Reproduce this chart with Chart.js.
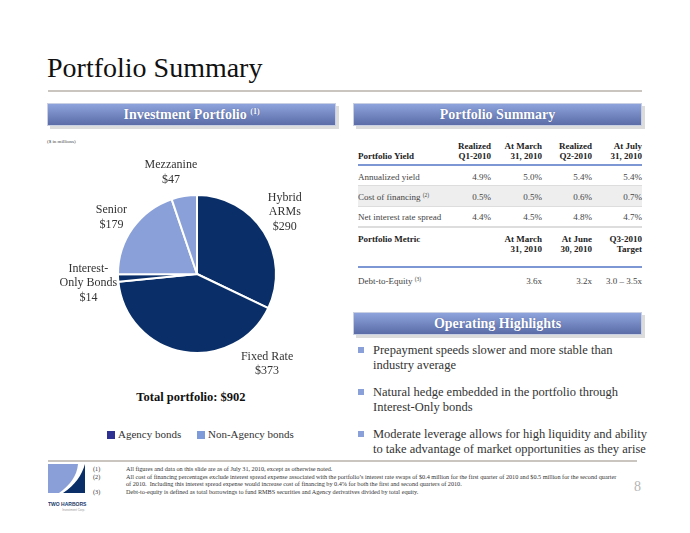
<!DOCTYPE html>
<html>
<head>
<meta charset="utf-8">
<script src="https://cdn.jsdelivr.net/npm/chart.js@4"></script>
<style>
  body { margin: 0; width: 690px; height: 533px; background: #fff; position: relative; overflow: hidden;
         font-family: "Liberation Serif", "Times New Roman", serif; color: #333; }
  .abs { position: absolute; }
  .title { left: 47px; top: 52px; font-size: 28px; color: #111; }
  .rule { height: 2px; background: #cbc5bf; }
  .bar { height: 21px; border: 1px solid #c9d0e4; box-shadow: 3px 3px 0 #dcdcdc;
         background: linear-gradient(#8ea3dc, #5b6ca7); color: #fff; font-weight: bold;
         font-size: 14px; text-align: center; line-height: 21px; text-shadow: 0 0 1px #4a5a90; }
  .bar sup { font-size: 8px; vertical-align: 5px; line-height: 0; }
  .small { font-size: 5px; }
  .cell { position: absolute; font-size: 9px; white-space: nowrap; line-height: 10px; }
  .hd { font-weight: bold; color: #222; text-align: right; }
  .num { text-align: right; color: #444; }
  .lbl { color: #444; }
  .lbl sup, .num sup { font-size: 5.5px; vertical-align: 3px; line-height: 0; }
  .bul { position: absolute; left: 358px; width: 6px; height: 6px; background: #8aa0d8; }
  .btxt { position: absolute; left: 373px; font-size: 12.5px; line-height: 14.5px; color: #333; white-space: nowrap; }
  .fn { position: absolute; font-size: 6.2px; line-height: 7.5px; color: #333; white-space: nowrap; }
</style>
</head>
<body>
<div class="abs title">Portfolio Summary</div>
<div class="abs rule" style="left:48px; top:90px; width:594px;"></div>

<div class="abs bar" style="left:47px; top:103px; width:287px;">Investment Portfolio <sup>(1)</sup></div>
<div class="abs bar" style="left:353px; top:103px; width:287px;">Portfolio Summary</div>
<div class="abs bar" style="left:353px; top:312px; width:287px;">Operating Highlights</div>

<div class="abs small" style="left:47px; top:139px; color:#444;">($ in millions)</div>

<canvas id="pie" class="abs" width="290" height="250" style="left:47px; top:140px;"></canvas>

<div class="abs" style="left:47px; top:390px; width:288px; text-align:center; font-weight:bold; font-size:12.5px; color:#111;" id="total"></div>

<div id="legend"></div>

<div id="table"></div>
<div id="bullets"></div>

<div class="abs rule" style="left:48px; top:460px; width:589px;"></div>
<svg class="abs" style="left:48px; top:463px;" width="44" height="50" viewBox="0 0 44 50">
  <path d="M0,1 L30,1 C29,13 22,22 11,30 L0,30 Z" fill="#8a9fd8"/>
  <path d="M37,1 L37,30 L15,30 C27,22 34,12 37,1 Z" fill="#0a2f68"/>
  <text x="0" y="43" font-size="5" font-weight="bold" fill="#1d3b6c" font-family="Liberation Sans, sans-serif">TWO HARBORS</text>
  <text x="37" y="48" font-size="3" fill="#999" text-anchor="end" font-family="Liberation Sans, sans-serif">Investment Corp.</text>
</svg>
<div class="fn" style="left:93px; top:465px;">(1)<br>(2)<br><br>(3)</div>
<div class="fn" style="left:126px; top:465px;">All figures and data on this slide are as of July 31, 2010, except as otherwise noted.<br>All cost of financing percentages exclude interest spread expense associated with the portfolio’s interest rate swaps of $0.4 million for the first quarter of 2010 and $0.5 million for the second quarter<br>of 2010.&nbsp; Including this interest spread expense would increase cost of financing by 0.4% for both the first and second quarters of 2010.<br>Debt-to-equity is defined as total borrowings to fund RMBS securities and Agency derivatives divided by total equity.</div>
<div class="abs" style="left:634px; top:479px; font-size:14px; color:#b5b5b5;">8</div>

<script>
// pie data ($ in millions)
const categories = [["Hybrid", "ARMs"], ["Fixed Rate"], ["Interest-", "Only Bonds"], ["Senior"], ["Mezzanine"]];
const values = [290, 373, 14, 179, 47];
const groups = ["Agency bonds", "Agency bonds", "Agency bonds", "Non-Agency bonds", "Non-Agency bonds"];
const totalPortfolio = 902;

// portfolio yield table
const yieldHeads = [["Realized", "Q1-2010"], ["At  March", "31, 2010"], ["Realized", "Q2-2010"], ["At July", "31, 2010"]];
const yieldRows = ["Annualized yield", "Cost of financing", "Net interest rate spread"];
const yieldNotes = ["", "(2)", ""];
const annualizedYield = ["4.9%", "5.0%", "5.4%", "5.4%"];
const costOfFinancing = ["0.5%", "0.5%", "0.6%", "0.7%"];
const netSpread = ["4.4%", "4.5%", "4.8%", "4.7%"];

// portfolio metric table
const metricHeads = [["At March", "31, 2010"], ["At June", "30, 2010"], ["Q3-2010", "Target"]];
const debtToEquity = ["3.6x", "3.2x", "3.0 – 3.5x"];

const highlights = [
  ["Prepayment speeds slower and more stable than", "industry average"],
  ["Natural hedge embedded in the portfolio through", "Interest-Only bonds"],
  ["Moderate leverage allows for high liquidity and ability", "to take advantage of market opportunities as they arise"]
];

const groupColors = { "Agency bonds": "#0a2f68", "Non-Agency bonds": "#8aa0d8" };
const legendColors = { "Agency bonds": "#2e3192", "Non-Agency bonds": "#7f9ad8" };

document.getElementById("total").textContent = "Total portfolio: $" + totalPortfolio;

// legend
let lg = "";
const legendX = [107, 197];
[...new Set(groups)].forEach((g, i) => {
  lg += `<div class="abs" style="left:${legendX[i]}px; top:431px; width:8px; height:8px; background:${legendColors[g]}"></div>`;
  lg += `<div class="abs" style="left:${legendX[i] + 11}px; top:428px; font-size:11px; color:#333">${g}</div>`;
});
document.getElementById("legend").innerHTML = lg;

// tables
const colRight = [491, 542, 592, 642];
let h = "";
function put(text, x, y, cls, right) {
  const pos = right ? `right:${690 - x}px` : `left:${x}px`;
  h += `<div class="cell ${cls}" style="${pos}; top:${y}px">${text}</div>`;
}
yieldHeads.forEach((hd, i) => put(hd.join("<br>"), colRight[i], 141, "hd", true));
put("Portfolio Yield", 358, 151, "hd", false);
h += `<div class="abs" style="left:358px; top:164px; width:284px; height:2px; background:#7d97d5"></div>`;
h += `<div class="abs" style="left:358px; top:186px; width:284px; height:20px; background:#eeeeee"></div>`;
h += `<div class="abs" style="left:358px; top:185px; width:284px; height:1px; background:#dddddd"></div>`;
h += `<div class="abs" style="left:358px; top:206px; width:284px; height:1px; background:#dddddd"></div>`;
h += `<div class="abs" style="left:358px; top:226px; width:284px; height:2px; background:#dddddd"></div>`;
const yieldData = [annualizedYield, costOfFinancing, netSpread];
yieldRows.forEach((r, k) => {
  const y = 172 + k * 20;
  put(r + (yieldNotes[k] ? ` <sup>${yieldNotes[k]}</sup>` : ""), 358, y, "lbl", false);
  yieldData[k].forEach((v, i) => put(v, colRight[i], y, "num", true));
});
put("Portfolio Metric", 358, 234, "hd", false);
metricHeads.forEach((hd, i) => put(hd.join("<br>"), colRight[i + 1], 234, "hd", true));
h += `<div class="abs" style="left:358px; top:266px; width:284px; height:2px; background:#7d97d5"></div>`;
put("Debt-to-Equity <sup>(3)</sup>", 358, 276, "lbl", false);
debtToEquity.forEach((v, i) => put(v, colRight[i + 1], 276, "num", true));
document.getElementById("table").innerHTML = h;

// bullets
let b = "";
highlights.forEach((lines, i) => {
  const y = 343 + i * 42;
  b += `<div class="bul" style="top:${y + 4}px"></div>`;
  b += `<div class="btxt" style="top:${y}px">${lines.join("<br>")}</div>`;
});
document.getElementById("bullets").innerHTML = b;

// label placement around the pie (turn in degrees, reach as multiple of radius)
const labelTurn = [-3, -48, -2, -2, -5];
const labelReach = [1.36, 1.44, 1.38, 1.30, 1.33];

const pieLabels = {
  id: "pieLabels",
  afterDatasetsDraw(chart) {
    const ctx = chart.ctx;
    const arcs = chart.getDatasetMeta(0).data;
    ctx.save();
    ctx.font = '12px "Liberation Serif", serif';
    ctx.fillStyle = "#333";
    ctx.textAlign = "center";
    ctx.textBaseline = "middle";
    arcs.forEach((arc, i) => {
      const p = arc.getProps(["x", "y", "startAngle", "endAngle", "outerRadius"], true);
      const a = (p.startAngle + p.endAngle) / 2 + labelTurn[i] * Math.PI / 180;
      const d = p.outerRadius * labelReach[i];
      const cx = p.x + Math.cos(a) * d, cy = p.y + Math.sin(a) * d;
      const lines = [].concat(categories[i], "$" + values[i]);
      lines.forEach((t, k) => ctx.fillText(t, cx, cy + (k - (lines.length - 1) / 2) * 14.5));
    });
    ctx.restore();
  }
};

new Chart(document.getElementById("pie").getContext("2d"), {
  type: "pie",
  data: {
    labels: categories,
    datasets: [{
      data: values,
      backgroundColor: groups.map(g => groupColors[g]),
      borderColor: "#ffffff",
      borderWidth: 2
    }]
  },
  options: {
    responsive: false,
    animation: false,
    radius: 79,
    layout: { padding: { left: 10, right: 0, top: 18, bottom: 0 } },
    plugins: { legend: { display: false }, tooltip: { enabled: false } }
  },
  plugins: [pieLabels]
});
</script>
</body>
</html>
